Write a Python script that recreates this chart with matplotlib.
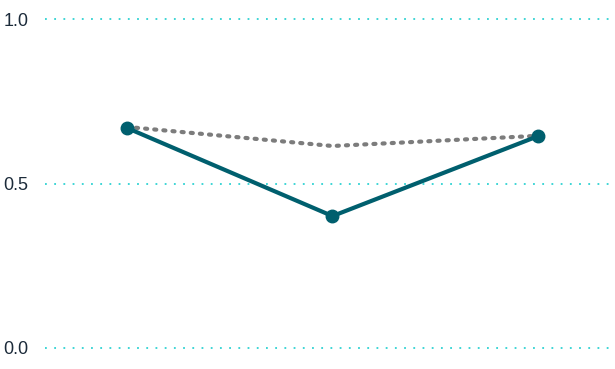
import matplotlib
matplotlib.use("Agg")
import matplotlib.pyplot as plt

categories = [0, 1, 2]
solid_values = [0.669, 0.401, 0.644]
dotted_values = [0.672, 0.614, 0.645]
yticks = [0.0, 0.5, 1.0]
ytick_labels = ["0.0", "0.5", "1.0"]

fig = plt.figure(figsize=(6.15, 3.69), dpi=100)
ax = fig.add_axes([45/615, 0, 570/615, 1])
ax.set_xlim(-0.398, 2.374)
ax.set_ylim(-21/329, 1 + 19/329)

for y in yticks:
    ax.axhline(y, color="#2ed2d2", lw=1.3, linestyle=(0, (1.0, 4.1)), zorder=1)

ax.plot(categories, dotted_values, color="#7c7c7c", lw=3.0,
        linestyle=(0, (0.5, 1.7)), dash_capstyle="round", zorder=2)
ax.plot(categories, solid_values, color="#005f6e", lw=3.0,
        marker="o", markersize=9, solid_capstyle="round", zorder=3)

ax.set_yticks(yticks)
ax.set_yticklabels(ytick_labels, family="Liberation Sans", fontsize=13, color="#1c2b3a")
ax.tick_params(axis="y", length=0, pad=12)
ax.set_xticks([])
for s in ax.spines.values():
    s.set_visible(False)

fig.savefig("out.png", dpi=100)
